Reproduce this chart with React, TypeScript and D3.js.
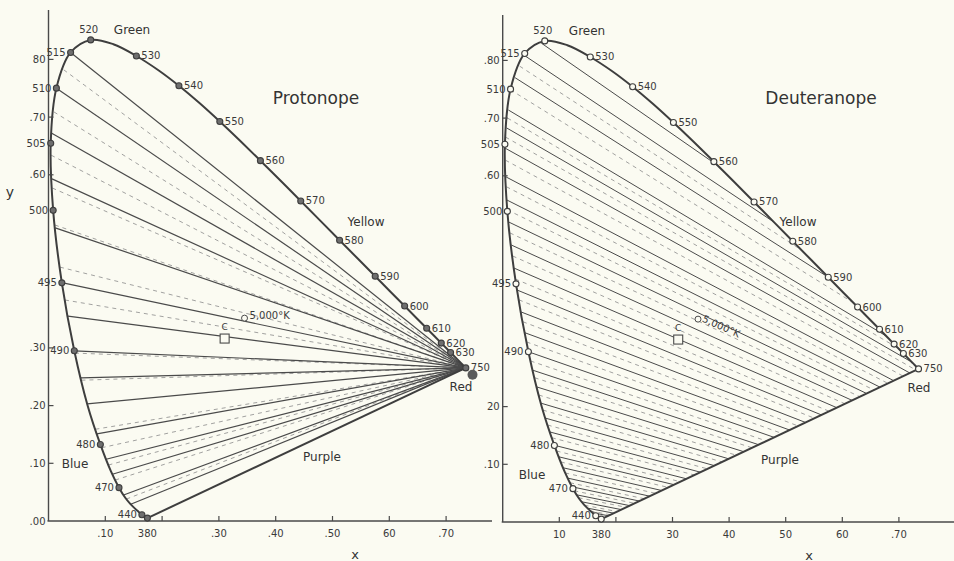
import React from "react";
import * as d3 from "d3";

// CIE 1931 spectral locus (wavelength nm, chromaticity x, y)
const wavelengths = [380, 385, 390, 395, 400, 405, 410, 415, 420, 425, 430, 435, 440, 445, 450, 455, 460, 465, 470, 475, 480, 485, 490, 495, 500, 505, 510, 515, 520, 525, 530, 535, 540, 545, 550, 555, 560, 565, 570, 575, 580, 585, 590, 595, 600, 605, 610, 615, 620, 625, 630, 635, 640, 645, 650, 655, 660, 670, 680, 700, 750];
const chromaX = [0.1741, 0.174, 0.1738, 0.1736, 0.1733, 0.173, 0.1726, 0.1721, 0.1714, 0.1703, 0.1689, 0.1669, 0.1644, 0.1611, 0.1566, 0.151, 0.144, 0.1355, 0.1241, 0.1096, 0.0913, 0.0687, 0.0454, 0.0235, 0.0082, 0.0039, 0.0139, 0.0389, 0.0743, 0.1142, 0.1547, 0.1929, 0.2296, 0.2658, 0.3016, 0.3373, 0.3731, 0.4087, 0.4441, 0.4788, 0.5125, 0.5448, 0.5752, 0.6029, 0.627, 0.6482, 0.6658, 0.6801, 0.6915, 0.7006, 0.7079, 0.714, 0.719, 0.723, 0.726, 0.7283, 0.73, 0.732, 0.7334, 0.7347, 0.7347];
const chromaY = [0.005, 0.005, 0.0049, 0.0049, 0.0048, 0.0048, 0.0048, 0.0048, 0.0051, 0.0058, 0.0069, 0.0086, 0.0109, 0.0138, 0.0177, 0.0227, 0.0297, 0.0399, 0.0578, 0.0868, 0.1327, 0.2007, 0.295, 0.4127, 0.5384, 0.6548, 0.7502, 0.812, 0.8338, 0.8262, 0.8059, 0.7816, 0.7543, 0.7243, 0.6923, 0.6589, 0.6245, 0.5896, 0.5547, 0.5202, 0.4866, 0.4544, 0.4242, 0.3965, 0.3725, 0.3514, 0.334, 0.3197, 0.3083, 0.2993, 0.292, 0.2859, 0.2809, 0.277, 0.274, 0.2717, 0.27, 0.268, 0.2666, 0.2653, 0.2653];

const markedWavelengths = [380, 440, 470, 480, 490, 495, 500, 505, 510, 515, 520, 530, 540, 550, 560, 570, 580, 590, 600, 610, 620, 630, 750];

// Confusion lines: chromaticity y where each line leaves the blue-green side of the locus
const protanSolidStartY = [0.812, 0.75, 0.672, 0.593, 0.508, 0.413, 0.355, 0.295, 0.248, 0.203, 0.151, 0.107, 0.081, 0.045, 0.029];
const protanDashedStartY = [0.782, 0.709, 0.634, 0.577, 0.513, 0.44, 0.383, 0.291, 0.244, 0.159, 0.127, 0.097, 0.071, 0.038];
const deutanSolidStartY = [0.83, 0.809, 0.77, 0.714, 0.683, 0.648, 0.598, 0.558, 0.52, 0.48, 0.44, 0.402, 0.364, 0.328, 0.295, 0.263, 0.234, 0.206, 0.18, 0.156, 0.133, 0.113, 0.094, 0.076, 0.061, 0.047, 0.035, 0.024, 0.016];
const deutanDashedStartY = [0.79, 0.749, 0.7, 0.667, 0.627, 0.581, 0.541, 0.501, 0.461, 0.421, 0.385, 0.347, 0.312, 0.279, 0.25, 0.22, 0.194, 0.168, 0.146, 0.123, 0.104, 0.085, 0.068, 0.054, 0.042, 0.029, 0.019];

const protanCopunctal = { x: 0.7465, y: 0.2535 };
const protanConvergence = { x: 0.7347, y: 0.2653 };
const deutanConvergence = { x: 1.67, y: -0.26 };
const illuminantC = { x: 0.3101, y: 0.3162 };
const kelvin5000 = { x: 0.3451, y: 0.3516 };

const xTickValues = [0.1, 0.2, 0.3, 0.4, 0.5, 0.6, 0.7];
const yTickValues = [0, 0.1, 0.2, 0.3, 0.4, 0.5, 0.6, 0.7, 0.8];
const leftXTickLabels = [".10", "", ".30", ".40", ".50", "60", ".70"];
const rightXTickLabels = ["10", "", "30", "40", "50", "60", ".70"];
const leftYTickLabels = [".00", ".10", ".20", ".30", "", "", ".60", ".70", "80"];
const rightYTickLabels = ["", ".10", "20", "", "", "", ".60", ".70", ".80"];

type P = { x: number; y: number; w?: number };

const locusPts: P[] = wavelengths.map((w, i) => ({ w, x: chromaX[i], y: chromaY[i] }));
const curvePts = locusPts.filter((p, i) => i === 0 || p.x !== locusPts[i - 1].x || p.y !== locusPts[i - 1].y);
const violetEnd = curvePts[0];
const redEnd = curvePts[curvePts.length - 1];
const leftBranch = locusPts.filter((p) => (p.w as number) >= 440 && (p.w as number) <= 520);
const upperBranch = curvePts.filter((p) => (p.w as number) >= 520);
const boundarySegs: [P, P][] = [];
for (let i = 0; i < upperBranch.length - 1; i++) boundarySegs.push([upperBranch[i], upperBranch[i + 1]]);
boundarySegs.push([redEnd, violetEnd]);

function startOnLocus(y: number): P {
  for (let i = 0; i < leftBranch.length - 1; i++) {
    const a = leftBranch[i], b = leftBranch[i + 1];
    if (y >= a.y && y <= b.y) {
      const t = (y - a.y) / (b.y - a.y);
      return { x: a.x + t * (b.x - a.x), y };
    }
  }
  return { x: leftBranch[0].x, y };
}

const cross = (ax: number, ay: number, bx: number, by: number) => ax * by - ay * bx;
function clipRay(s: P, d: P): P {
  const dx = d.x - s.x, dy = d.y - s.y;
  let best = Infinity;
  for (const [p, q] of boundarySegs) {
    const ex = q.x - p.x, ey = q.y - p.y;
    const den = cross(dx, dy, ex, ey);
    if (Math.abs(den) < 1e-12) continue;
    const t = cross(p.x - s.x, p.y - s.y, ex, ey) / den;
    const u = cross(p.x - s.x, p.y - s.y, dx, dy) / den;
    if (t > 1e-6 && u >= -1e-9 && u <= 1 + 1e-9 && t < best) best = t;
  }
  if (!isFinite(best)) return d;
  return { x: s.x + best * dx, y: s.y + best * dy };
}

const INK = "#4a4a4a";
const FONT = "'DejaVu Sans', sans-serif";

type Cfg = {
  side: "L" | "R";
  xs: d3.ScaleLinear<number, number>;
  ys: d3.ScaleLinear<number, number>;
  axisTop: number;
  axisRight: number;
  xLabels: string[];
  yLabels: string[];
  title: string;
  titlePos: [number, number];
  names: { t: string; x: number; y: number }[];
  xTitle: [number, number];
};

const cfgL: Cfg = {
  side: "L",
  xs: d3.scaleLinear().domain([0, 0.7]).range([48.5, 446.1]),
  ys: d3.scaleLinear().domain([0, 0.8]).range([521, 59.4]),
  axisTop: 10,
  axisRight: 492,
  xLabels: leftXTickLabels,
  yLabels: leftYTickLabels,
  title: "Protonope",
  titlePos: [316, 98],
  names: [
    { t: "Green", x: 132, y: 30 },
    { t: "Yellow", x: 366, y: 222 },
    { t: "Blue", x: 75, y: 464 },
    { t: "Purple", x: 322, y: 457 },
    { t: "Red", x: 461, y: 387 },
  ],
  xTitle: [355, 554],
};

const cfgR: Cfg = {
  side: "R",
  xs: d3.scaleLinear().domain([0, 0.7]).range([502.7, 898.9]),
  ys: d3.scaleLinear().domain([0, 0.8]).range([522, 60.4]),
  axisTop: 15,
  axisRight: 954,
  xLabels: rightXTickLabels,
  yLabels: rightYTickLabels,
  title: "Deuteranope",
  titlePos: [821, 98],
  names: [
    { t: "Green", x: 587, y: 31 },
    { t: "Yellow", x: 798, y: 222 },
    { t: "Blue", x: 532, y: 475 },
    { t: "Purple", x: 780, y: 460 },
    { t: "Red", x: 919, y: 388 },
  ],
  xTitle: [809, 555],
};

function Panel({ cfg }: { cfg: Cfg }) {
  const { xs, ys, side } = cfg;
  const lineGen = d3
    .line<P>()
    .x((d) => xs(d.x))
    .y((d) => ys(d.y))
    .curve(d3.curveCatmullRom.alpha(0.5));

  const solidStarts = side === "L" ? protanSolidStartY : deutanSolidStartY;
  const dashedStarts = side === "L" ? protanDashedStartY : deutanDashedStartY;
  const seg = (y: number): [P, P] => {
    const s = startOnLocus(y);
    const e = side === "L" ? protanConvergence : clipRay(s, deutanConvergence);
    return [s, e];
  };

  const labelFor = (w: number) => {
    const p = locusPts.find((q) => q.w === w) as P;
    const px = xs(p.x), py = ys(p.y);
    if (w === 520) return { x: px - 2, y: py - 10, anchor: "middle" };
    if (w === 380) return { x: px, y: ys(0) + 12, anchor: "middle" };
    if (w < 520) return { x: px - 5, y: py, anchor: "end" };
    return { x: px + 5, y: py, anchor: "start" };
  };

  return (
    <g>
      {/* confusion lines */}
      {dashedStarts.map((y, i) => {
        const [s, e] = seg(y);
        return (
          <line key={"d" + i} x1={xs(s.x)} y1={ys(s.y)} x2={xs(e.x)} y2={ys(e.y)}
            stroke="#8a8a8a" strokeWidth={0.8} strokeDasharray="4,4" />
        );
      })}
      {solidStarts.map((y, i) => {
        const [s, e] = seg(y);
        return (
          <line key={"s" + i} x1={xs(s.x)} y1={ys(s.y)} x2={xs(e.x)} y2={ys(e.y)}
            stroke={INK} strokeWidth={side === "L" ? 1.2 : 1} />
        );
      })}

      {/* spectral locus and purple line */}
      <path d={lineGen(curvePts) || ""} fill="none" stroke="#3e3e3e" strokeWidth={2} />
      <line x1={xs(violetEnd.x)} y1={ys(violetEnd.y)} x2={xs(redEnd.x)} y2={ys(redEnd.y)}
        stroke="#3e3e3e" strokeWidth={2} />

      {/* axes */}
      <line x1={xs(0)} y1={cfg.axisTop} x2={xs(0)} y2={ys(0)} stroke={INK} strokeWidth={1.4} />
      <line x1={xs(0) - 1} y1={ys(0)} x2={cfg.axisRight} y2={ys(0)} stroke={INK} strokeWidth={1.4} />
      {xTickValues.map((v, i) => (
        <g key={"xt" + i}>
          <line x1={xs(v)} x2={xs(v)} y1={ys(0)} y2={ys(0) - 5} stroke={INK} strokeWidth={1.2} />
          {cfg.xLabels[i] && (
            <text x={xs(v)} y={ys(0) + 12} textAnchor="middle" dominantBaseline="central"
              fontSize={10} fill="#3a3a3a" fontFamily={FONT}>{cfg.xLabels[i]}</text>
          )}
        </g>
      ))}
      {yTickValues.map((v, i) =>
        cfg.yLabels[i] ? (
          <g key={"yt" + i}>
            {v > 0 && <line x1={xs(0)} x2={xs(0) + 5} y1={ys(v)} y2={ys(v)} stroke={INK} strokeWidth={1.2} />}
            <text x={xs(0) - 3} y={ys(v)} textAnchor="end" dominantBaseline="central"
              fontSize={10} fill="#3a3a3a" fontFamily={FONT}>{cfg.yLabels[i]}</text>
          </g>
        ) : null
      )}

      {/* wavelength markers */}
      {markedWavelengths.map((w) => {
        const p = locusPts.find((q) => q.w === w) as P;
        const lab = labelFor(w);
        return (
          <g key={"w" + w}>
            <circle cx={xs(p.x)} cy={ys(p.y)} r={3}
              fill={side === "L" ? "#6e6e6e" : "#fbfbf2"} stroke="#3e3e3e" strokeWidth={1.1} />
            <text x={lab.x} y={lab.y} textAnchor={lab.anchor as any} dominantBaseline="central"
              fontSize={10} fill="#3a3a3a" fontFamily={FONT}>{String(w)}</text>
          </g>
        );
      })}

      {/* illuminant C and 5000K */}
      <rect x={xs(illuminantC.x) - 4.5} y={ys(illuminantC.y) - 4.5} width={9} height={9}
        fill="#fbfbf2" stroke={INK} strokeWidth={1.1} />
      <text x={xs(illuminantC.x)} y={ys(illuminantC.y) - 12} textAnchor="middle" dominantBaseline="central"
        fontSize={9} fill="#3a3a3a" fontFamily={FONT}>C</text>
      <circle cx={xs(kelvin5000.x)} cy={ys(kelvin5000.y)} r={3} fill="#fbfbf2" stroke={INK} strokeWidth={1} />
      {side === "L" ? (
        <text x={xs(kelvin5000.x) + 5} y={ys(kelvin5000.y) - 3} dominantBaseline="central"
          fontSize={10} fill="#3a3a3a" fontFamily={FONT}>5,000°K</text>
      ) : (
        <text x={xs(kelvin5000.x) + 5} y={ys(kelvin5000.y) - 1} dominantBaseline="central"
          transform={`rotate(24 ${xs(kelvin5000.x) + 5} ${ys(kelvin5000.y) - 1})`}
          fontSize={10} fill="#3a3a3a" fontFamily={FONT}>5,000°K</text>
      )}

      {side === "L" && (
        <circle cx={xs(protanCopunctal.x)} cy={ys(protanCopunctal.y)} r={5} fill="#5a5a5a" />
      )}

      {/* names */}
      {cfg.names.map((n) => (
        <text key={n.t} x={n.x} y={n.y} textAnchor="middle" dominantBaseline="central"
          fontSize={12} fill="#333" fontFamily={FONT}>{n.t}</text>
      ))}
      <text x={cfg.titlePos[0]} y={cfg.titlePos[1]} textAnchor="middle" dominantBaseline="central"
        fontSize={17} fill="#333" fontFamily={FONT}>{cfg.title}</text>
      <text x={cfg.xTitle[0]} y={cfg.xTitle[1]} textAnchor="middle" dominantBaseline="central"
        fontSize={13} fill="#333" fontFamily={FONT}>x</text>
    </g>
  );
}

export default function App() {
  return (
    <svg width={954} height={561} viewBox="0 0 954 561"
      style={{ position: "absolute", left: 0, top: 0, display: "block" }}>
      <rect x={0} y={0} width={954} height={561} fill="#fbfbf2" />
      <Panel cfg={cfgL} />
      <Panel cfg={cfgR} />
      <text x={10} y={192} textAnchor="middle" dominantBaseline="central"
        fontSize={14} fill="#333" fontFamily={FONT}>y</text>
    </svg>
  );
}
